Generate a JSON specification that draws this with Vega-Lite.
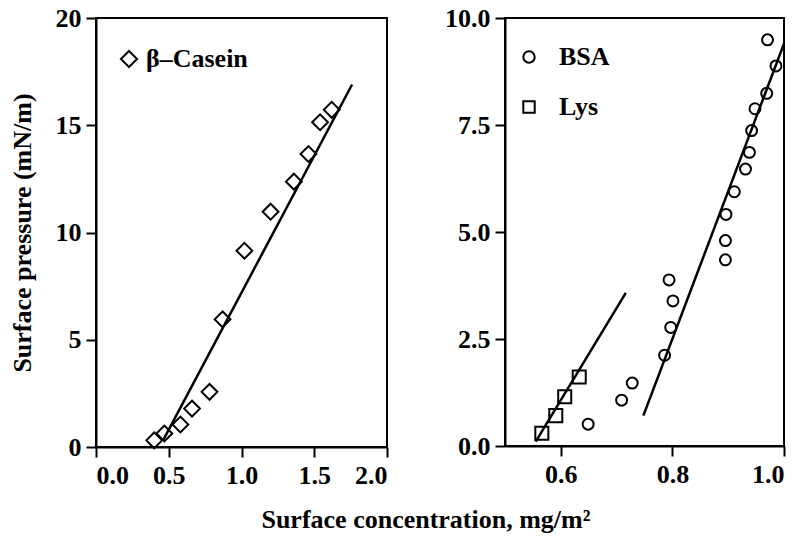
{
  "$schema": "https://vega.github.io/schema/vega-lite/v6.json",
  "background": "white",
  "padding": {"left": 8, "top": 4, "right": 5, "bottom": 5},
  "datasets": {
    "casein": [
      {"x": 0.40, "y": 0.31, "protein": "β–Casein"},
      {"x": 0.47, "y": 0.63, "protein": "β–Casein"},
      {"x": 0.58, "y": 1.05, "protein": "β–Casein"},
      {"x": 0.66, "y": 1.79, "protein": "β–Casein"},
      {"x": 0.78, "y": 2.57, "protein": "β–Casein"},
      {"x": 0.87, "y": 5.95, "protein": "β–Casein"},
      {"x": 1.02, "y": 9.15, "protein": "β–Casein"},
      {"x": 1.20, "y": 10.97, "protein": "β–Casein"},
      {"x": 1.36, "y": 12.37, "protein": "β–Casein"},
      {"x": 1.46, "y": 13.66, "protein": "β–Casein"},
      {"x": 1.54, "y": 15.14, "protein": "β–Casein"},
      {"x": 1.62, "y": 15.72, "protein": "β–Casein"}
    ],
    "caseinFit": [
      {"x": 0.46, "y": 0.3},
      {"x": 1.76, "y": 16.9}
    ],
    "bsa": [
      {"x": 0.649, "y": 0.51, "protein": "BSA"},
      {"x": 0.709, "y": 1.07, "protein": "BSA"},
      {"x": 0.728, "y": 1.47, "protein": "BSA"},
      {"x": 0.786, "y": 2.12, "protein": "BSA"},
      {"x": 0.797, "y": 2.77, "protein": "BSA"},
      {"x": 0.801, "y": 3.39, "protein": "BSA"},
      {"x": 0.794, "y": 3.88, "protein": "BSA"},
      {"x": 0.895, "y": 4.35, "protein": "BSA"},
      {"x": 0.895, "y": 4.80, "protein": "BSA"},
      {"x": 0.896, "y": 5.41, "protein": "BSA"},
      {"x": 0.911, "y": 5.94, "protein": "BSA"},
      {"x": 0.931, "y": 6.47, "protein": "BSA"},
      {"x": 0.938, "y": 6.86, "protein": "BSA"},
      {"x": 0.942, "y": 7.37, "protein": "BSA"},
      {"x": 0.948, "y": 7.88, "protein": "BSA"},
      {"x": 0.969, "y": 8.24, "protein": "BSA"},
      {"x": 0.9705, "y": 9.49, "protein": "BSA"},
      {"x": 0.9856, "y": 8.88, "protein": "BSA"}
    ],
    "lys": [
      {"x": 0.566, "y": 0.30, "protein": "Lys"},
      {"x": 0.591, "y": 0.71, "protein": "Lys"},
      {"x": 0.607, "y": 1.15, "protein": "Lys"},
      {"x": 0.633, "y": 1.61, "protein": "Lys"}
    ],
    "lysFit": [
      {"x": 0.555, "y": 0.10},
      {"x": 0.7165, "y": 3.58}
    ],
    "bsaFit": [
      {"x": 0.748, "y": 0.71},
      {"x": 1.0, "y": 9.4}
    ]
  },
  "config": {
    "font": "Liberation Serif",
    "view": {"stroke": "black", "strokeWidth": 2},
    "axis": {
      "grid": false,
      "labelFont": "Liberation Serif",
      "labelFontSize": 26,
      "labelFontWeight": "bold",
      "labelColor": "black",
      "domainColor": "black",
      "domainWidth": 2,
      "tickColor": "black",
      "tickWidth": 2,
      "tickSize": 10,
      "labelPadding": 5,
      "titleFont": "Liberation Serif",
      "titleFontSize": 26,
      "titleFontWeight": "bold",
      "titleColor": "black"
    },
    "legend": {
      "labelFont": "Liberation Serif",
      "labelFontSize": 26,
      "labelFontWeight": "bold",
      "labelColor": "black",
      "symbolStrokeColor": "black",
      "symbolFillColor": "transparent",
      "symbolStrokeWidth": 2,
      "title": null,
      "padding": 0
    }
  },
  "title": {
    "text": "Surface concentration, mg/m²",
    "orient": "bottom",
    "anchor": "middle",
    "font": "Liberation Serif",
    "fontSize": 26,
    "fontWeight": "bold",
    "color": "black",
    "dx": 27,
    "offset": 18
  },
  "spacing": 54,
  "resolve": {
    "scale": {"x": "independent", "y": "independent", "shape": "independent"},
    "legend": {"shape": "independent"}
  },
  "hconcat": [
    {
      "width": 291,
      "height": 429,
      "layer": [
        {
          "data": {"name": "caseinFit"},
          "mark": {"type": "line", "color": "black", "strokeWidth": 2.5},
          "encoding": {
            "x": {"field": "x", "type": "quantitative", "scale": {"domain": [0, 2]}, "axis": {"values": [0, 0.5, 1, 1.5, 2], "format": ".1f", "title": null}},
            "y": {"field": "y", "type": "quantitative", "scale": {"domain": [0, 20]}, "axis": {"values": [0, 5, 10, 15, 20], "title": "Surface pressure (mN/m)", "titlePadding": 20}}
          }
        },
        {
          "data": {"name": "casein"},
          "mark": {"type": "point", "filled": false, "color": "black", "strokeWidth": 2, "size": 250, "opacity": 1},
          "encoding": {
            "x": {"field": "x", "type": "quantitative"},
            "y": {"field": "y", "type": "quantitative"},
            "shape": {
              "field": "protein", "type": "nominal",
              "scale": {"domain": ["β–Casein"], "range": ["diamond"]},
              "legend": {"orient": "none", "legendX": 20, "legendY": 28, "symbolSize": 260, "labelOffset": 4}
            }
          }
        }
      ]
    },
    {
      "width": 279,
      "height": 428,
      "layer": [
        {
          "data": {"name": "lysFit"},
          "mark": {"type": "line", "color": "black", "strokeWidth": 2.5},
          "encoding": {
            "x": {"field": "x", "type": "quantitative", "scale": {"domain": [0.5, 1.0]}, "axis": {"values": [0.6, 0.8, 1.0], "format": ".1f", "title": null}},
            "y": {"field": "y", "type": "quantitative", "scale": {"domain": [0, 10]}, "axis": {"values": [0, 2.5, 5, 7.5, 10], "format": ".1f", "title": null}}
          }
        },
        {
          "data": {"name": "bsaFit"},
          "mark": {"type": "line", "color": "black", "strokeWidth": 2.5},
          "encoding": {
            "x": {"field": "x", "type": "quantitative"},
            "y": {"field": "y", "type": "quantitative"}
          }
        },
        {
          "data": {"name": "bsa"},
          "mark": {"type": "point", "filled": false, "color": "black", "strokeWidth": 2, "size": 120, "opacity": 1},
          "encoding": {
            "x": {"field": "x", "type": "quantitative"},
            "y": {"field": "y", "type": "quantitative"},
            "shape": {
              "field": "protein", "type": "nominal",
              "scale": {"domain": ["BSA", "Lys"], "range": ["circle", "square"]},
              "legend": {"orient": "none", "legendX": 11, "legendY": 26, "symbolSize": 130, "labelOffset": 17, "rowPadding": 24}
            }
          }
        },
        {
          "data": {"name": "lys"},
          "mark": {"type": "point", "filled": false, "color": "black", "strokeWidth": 2, "size": 170, "opacity": 1},
          "encoding": {
            "x": {"field": "x", "type": "quantitative"},
            "y": {"field": "y", "type": "quantitative"},
            "shape": {"field": "protein", "type": "nominal"}
          }
        }
      ]
    }
  ]
}
